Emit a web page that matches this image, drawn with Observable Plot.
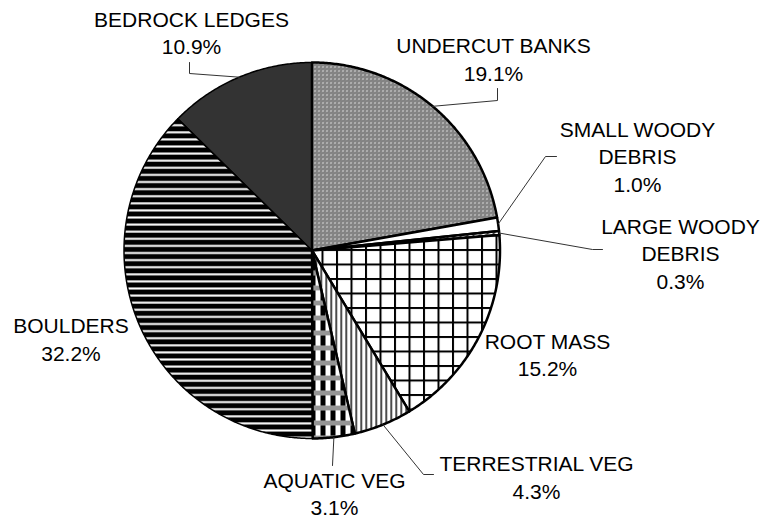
<!DOCTYPE html>
<html><head><meta charset="utf-8">
<script src="https://cdn.jsdelivr.net/npm/d3@7"></script>
<script src="https://cdn.jsdelivr.net/npm/@observablehq/plot@0.6"></script>
<style>body{margin:0;background:#fff}#chart svg{display:block}</style>
</head><body><div id="chart"></div>
<script>
// ---- data ----
const categories = ["UNDERCUT BANKS","SMALL WOODY DEBRIS","LARGE WOODY DEBRIS","ROOT MASS","TERRESTRIAL VEG","AQUATIC VEG","BOULDERS","BEDROCK LEDGES"];
const labelTexts = ["UNDERCUT BANKS","SMALL WOODY\nDEBRIS","LARGE WOODY\nDEBRIS","ROOT MASS","TERRESTRIAL VEG","AQUATIC VEG","BOULDERS","BEDROCK LEDGES"];
const values = [19.1, 1.0, 0.3, 15.2, 4.3, 3.1, 32.2, 10.9];

// ---- styles / layout ----
const W = 771, H = 521, CX = 311.5, CY = 250, R = 188;
const fills = ["url(#p-undercut)","#ffffff","url(#p-lwd)","url(#p-root)","url(#p-terr)","url(#p-aqua)","url(#p-boulder)","#333333"];
const strokeWidths = [2.5, 2.5, 2.5, 2.5, 2.5, 2.5, 1.5, 1.5];
const drawOrder = [7, 6, 0, 1, 2, 3, 4, 5];
// label block centres (px) and leader elbows (px), after the edge point
const labelPos = [[493,57.5],[637,155],[680,252],[547,353],[536,475.5],[334,492],[70.5,337.5],[191,31]];
const leaders = [[[497,100],[497,88]], [[545,156],[556,156]], [[592,249],[602,249]], null, [[423,474],[433,474]], [[332,465]], null, [[189,73],[189,62]]];

const arcs = d3.pie().sort(null).value(d => d)(values);
const pt = a => [CX + R * Math.sin(a), CY - R * Math.cos(a)];

const slices = arcs.map((a, i) => {
  const pts = [[CX, CY]];
  const n = Math.max(2, Math.ceil((a.endAngle - a.startAngle) / (Math.PI / 360)));
  for (let k = 0; k <= n; k++) pts.push(pt(a.startAngle + (a.endAngle - a.startAngle) * k / n));
  return pts.map(([x, y]) => ({x, y, i}));
});

const leaderLines = [];
arcs.forEach((a, i) => {
  if (!leaders[i]) return;
  const mid = (a.startAngle + a.endAngle) / 2;
  const p = [pt(mid), ...leaders[i]];
  leaderLines.push(p.map(([x, y]) => ({x, y, i})));
});

const labels = categories.map((c, i) => ({
  x: labelPos[i][0], y: labelPos[i][1],
  text: labelTexts[i] + "\n" + values[i].toFixed(1) + "%"
}));

const marks = [];
drawOrder.forEach(i => {
  marks.push(Plot.line(slices[i], {x: "x", y: "y", curve: "linear-closed", fill: fills[i], stroke: "#000", strokeWidth: strokeWidths[i], strokeLinejoin: "round"}));
});
leaderLines.forEach(l => marks.push(Plot.line(l, {x: "x", y: "y", stroke: "#333", strokeWidth: 1})));
marks.push(Plot.text(labels, {x: "x", y: "y", text: "text", fontSize: 21, fontFamily: "Liberation Sans, Arial, sans-serif", lineHeight: 1.31, lineAnchor: "middle", textAnchor: "middle", fill: "#000"}));

const svg = Plot.plot({
  width: W, height: H,
  marginTop: 0, marginRight: 0, marginBottom: 0, marginLeft: 0,
  x: {domain: [0, W], axis: null},
  y: {domain: [H, 0], axis: null},
  style: {background: "#fff"},
  marks
});

svg.insertAdjacentHTML("afterbegin", `<defs>
<pattern id="p-undercut" patternUnits="userSpaceOnUse" width="4" height="4">
  <rect width="4" height="4" fill="#b4b4b4"/>
  <rect x="0" y="0" width="1" height="1" fill="#505050"/><rect x="2" y="0" width="1" height="1" fill="#505050"/>
  <rect x="1" y="1" width="1" height="1" fill="#505050"/><rect x="3" y="1" width="1" height="1" fill="#606060"/>
  <rect x="0" y="2" width="1" height="1" fill="#505050"/><rect x="2" y="2" width="1" height="1" fill="#eeeeee"/>
  <rect x="1" y="3" width="1" height="1" fill="#606060"/><rect x="3" y="3" width="1" height="1" fill="#505050"/>
</pattern>
<pattern id="p-lwd" patternUnits="userSpaceOnUse" width="6" height="6">
  <rect width="6" height="6" fill="#fff"/><path d="M0,6 L6,0" stroke="#000" stroke-width="1.5"/>
</pattern>
<pattern id="p-root" patternUnits="userSpaceOnUse" width="14.5" height="14.5" x="2" y="2">
  <rect width="14.5" height="14.5" fill="#fff"/><rect width="2" height="14.5" fill="#000"/><rect width="14.5" height="2" fill="#000"/>
</pattern>
<pattern id="p-terr" patternUnits="userSpaceOnUse" width="5" height="5">
  <rect width="5" height="5" fill="#fff"/><rect width="1.4" height="5" fill="#000"/>
</pattern>
<pattern id="p-aqua" patternUnits="userSpaceOnUse" width="10" height="15">
  <rect width="10" height="15" fill="#fff"/>
  <rect x="0" y="5" width="5" height="10" fill="#000"/>
  <rect x="0" y="0" width="10" height="5" fill="#aaa"/>
  <rect x="0" y="1" width="1" height="1" fill="#555"/><rect x="2" y="1" width="1" height="1" fill="#555"/><rect x="4" y="1" width="1" height="1" fill="#555"/><rect x="6" y="1" width="1" height="1" fill="#555"/><rect x="8" y="1" width="1" height="1" fill="#555"/>
  <rect x="1" y="3" width="1" height="1" fill="#555"/><rect x="3" y="3" width="1" height="1" fill="#555"/><rect x="5" y="3" width="1" height="1" fill="#555"/><rect x="7" y="3" width="1" height="1" fill="#555"/><rect x="9" y="3" width="1" height="1" fill="#555"/>
</pattern>
<pattern id="p-boulder" patternUnits="userSpaceOnUse" width="10" height="7.1">
  <rect width="10" height="7.1" fill="#000"/><rect y="2.8" width="10" height="2.4" fill="#bbb"/><rect y="3.5" width="10" height="1" fill="#fff"/>
</pattern>
</defs>`);

document.getElementById("chart").appendChild(svg);
</script>
</body></html>
